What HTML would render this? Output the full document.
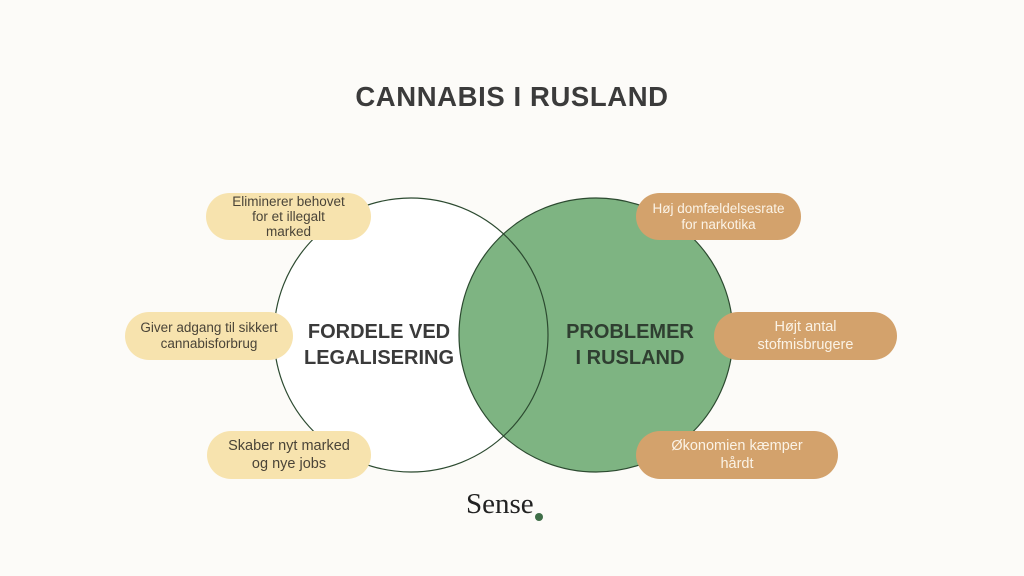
<!DOCTYPE html>
<html><head><style>
html,body{margin:0;padding:0}
body{width:1024px;height:576px;background:#fcfbf8;position:relative;overflow:hidden;font-family:"Liberation Sans",sans-serif}
.t{position:absolute;left:0;width:1024px;top:81px;text-align:center;font-weight:bold;font-size:27.5px;color:#3b3b3b;letter-spacing:0.6px}
.p{position:absolute;border-radius:24px;display:flex;align-items:center;justify-content:center;text-align:center;font-size:13.5px;line-height:16px}
.l{background:#f7e3ae;color:#4a4438}
.r{background:#d3a26c;color:#fbf3e6}
.big{position:absolute;font-weight:bold;font-size:20px;line-height:26px;text-align:center;color:#3a3a3a}
.logo{position:absolute;left:466px;top:488px;font-family:"Liberation Serif",serif;font-size:29px;color:#222}
</style></head><body>
<svg width="1024" height="576" style="position:absolute;left:0;top:0">
<circle cx="411" cy="335" r="137" fill="#fff"/>
<circle cx="596" cy="335" r="137" fill="#7eb482" stroke="#2c4a30" stroke-width="1.2"/>
<circle cx="411" cy="335" r="137" fill="none" stroke="#2c4a30" stroke-width="1.2"/>
<circle cx="539" cy="517" r="4" fill="#3f6e48"/>
</svg>
<div class="t">CANNABIS I RUSLAND</div>
<div class="p l" style="left:206px;top:193px;width:165px;height:47px;line-height:15px">Eliminerer behovet<br>for et illegalt<br>marked</div>
<div class="p l" style="left:125px;top:312px;width:168px;height:48px">Giver adgang til sikkert<br>cannabisforbrug</div>
<div class="p l" style="left:207px;top:431px;width:164px;height:48px;font-size:14.5px;line-height:18px">Skaber nyt marked<br>og nye jobs</div>
<div class="p r" style="left:636px;top:193px;width:165px;height:47px">Høj domfældelsesrate<br>for narkotika</div>
<div class="p r" style="left:714px;top:312px;width:183px;height:48px;font-size:14.5px;line-height:18px">Højt antal<br>stofmisbrugere</div>
<div class="p r" style="left:636px;top:431px;width:202px;height:48px;font-size:14.5px;line-height:18px">Økonomien kæmper<br>hårdt</div>
<div class="big" style="left:294px;top:319px;width:170px">FORDELE VED<br>LEGALISERING</div>
<div class="big" style="left:555px;top:319px;width:150px;color:#2f3f31">PROBLEMER<br>I RUSLAND</div>
<div class="logo">Sense</div>
</body></html>
